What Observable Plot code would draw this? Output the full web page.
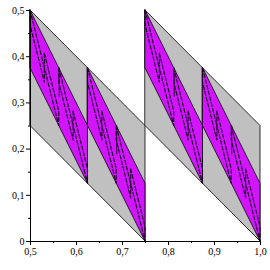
<!DOCTYPE html>
<html><head><meta charset="utf-8">
<script src="https://cdn.jsdelivr.net/npm/d3@7"></script>
<script src="https://cdn.jsdelivr.net/npm/@observablehq/plot@0.6"></script>
<style>body{margin:0;background:#fff}</style>
</head><body><div id="chart"></div>
<script>
// Level 1 (gray) pieces: left x, right x, top-left y, top-right y, vertical height
const grayX0 = [0.5, 0.625, 0.75, 0.875];
const grayX1 = [0.625, 0.75, 0.875, 1.0];
const grayTop0 = [0.5, 0.375, 0.5, 0.375];
const grayTop1 = [0.375, 0.25, 0.375, 0.25];
const grayH = [0.25, 0.25, 0.25, 0.25];
// Level 2 (magenta) strips
const magX0 = [0.5, 0.625, 0.75, 0.875];
const magX1 = [0.625, 0.75, 0.875, 1.0];
const magTop0 = [0.5, 0.375, 0.5, 0.375];
const magTop1 = [0.25, 0.125, 0.25, 0.125];
const magH = [0.125, 0.125, 0.125, 0.125];
// Level 3 pieces: only their left vertical edges are visible
const l3EdgeX = [0.5625, 0.6875, 0.8125, 0.9375];
const l3EdgeTop = [0.375, 0.25, 0.375, 0.25];
const l3EdgeBottom = [0.3125, 0.1875, 0.3125, 0.1875];
// Level 4 pieces (dashed)
const l4X0 = [0.5, 0.53125, 0.5625, 0.59375, 0.625, 0.65625, 0.6875, 0.71875,
              0.75, 0.78125, 0.8125, 0.84375, 0.875, 0.90625, 0.9375, 0.96875];
const l4X1 = [0.53125, 0.5625, 0.59375, 0.625, 0.65625, 0.6875, 0.71875, 0.75,
              0.78125, 0.8125, 0.84375, 0.875, 0.90625, 0.9375, 0.96875, 1.0];
const l4Top0 = [0.5, 0.40625, 0.375, 0.28125, 0.375, 0.28125, 0.25, 0.15625,
                0.5, 0.40625, 0.375, 0.28125, 0.375, 0.28125, 0.25, 0.15625];
const l4Top1 = [0.375, 0.28125, 0.25, 0.15625, 0.25, 0.15625, 0.125, 0.03125,
                0.375, 0.28125, 0.25, 0.15625, 0.25, 0.15625, 0.125, 0.03125];
const l4H = Array(16).fill(0.03125);

const xTicks = [0.5, 0.6, 0.7, 0.8, 0.9, 1.0];
const xTickLabels = ["0,5", "0,6", "0,7", "0,8", "0,9", "1,0"];
const xMinor = [0.55, 0.65, 0.75, 0.85, 0.95];
const yTicks = [0, 0.1, 0.2, 0.3, 0.4, 0.5];
const yTickLabels = ["0", "0,1", "0,2", "0,3", "0,4", "0,5"];
const yMinor = [0.05, 0.15, 0.25, 0.35, 0.45];

function rows(x0, x1, t0, t1, h) {
  const out = [];
  x0.forEach((_, i) => {
    out.push({id: i, x: x0[i], top: t0[i], bottom: t0[i] - h[i]});
    out.push({id: i, x: x1[i], top: t1[i], bottom: t1[i] - h[i]});
  });
  return out;
}
const gray = rows(grayX0, grayX1, grayTop0, grayTop1, grayH);
const mag = rows(magX0, magX1, magTop0, magTop1, magH);
const l4 = rows(l4X0, l4X1, l4Top0, l4Top1, l4H);
const l3edges = l3EdgeX.map((x, i) => ({x, y1: l3EdgeBottom[i], y2: l3EdgeTop[i]}));

const fmtX = new Map(xTicks.map((t, i) => [t, xTickLabels[i]]));
const fmtY = new Map(yTicks.map((t, i) => [t, yTickLabels[i]]));

const chart = Plot.plot({
  width: 270, height: 270,
  marginLeft: 30, marginRight: 10, marginTop: 10, marginBottom: 29,
  style: {fontFamily: "Liberation Serif", fontSize: "10px", color: "black", background: "white"},
  x: {domain: [0.5, 1.0], label: null},
  y: {domain: [0, 0.5], label: null},
  marks: [
    Plot.areaY(gray, {x: "x", y1: "bottom", y2: "top", z: "id", fill: "#c0c0c0", stroke: "black", strokeWidth: 0.8}),
    Plot.areaY(mag, {x: "x", y1: "bottom", y2: "top", z: "id", fill: "#d214ff", stroke: "black", strokeWidth: 0.8}),
    Plot.ruleX(l3edges, {x: "x", y1: "y1", y2: "y2", stroke: "black", strokeWidth: 0.8}),
    Plot.areaY(l4, {x: "x", y1: "bottom", y2: "top", z: "id", fill: "none", stroke: "#1a0022", strokeWidth: 1.1, strokeDasharray: "4,2"}),
    Plot.ruleY([0], {stroke: "black"}),
    Plot.ruleX([0.5], {stroke: "black"}),
    Plot.axisX({ticks: xTicks, tickSize: 4, tickPadding: 2, tickFormat: d => fmtX.get(d), fontSize: 10, label: null}),
    Plot.axisX({ticks: xMinor, tickSize: 2, text: null, label: null}),
    Plot.axisY({ticks: yTicks, tickSize: 4, tickPadding: 2, tickFormat: d => fmtY.get(d), fontSize: 10, label: null}),
    Plot.axisY({ticks: yMinor, tickSize: 2, text: null, label: null})
  ]
});
document.getElementById("chart").appendChild(chart);
</script>
</body></html>
